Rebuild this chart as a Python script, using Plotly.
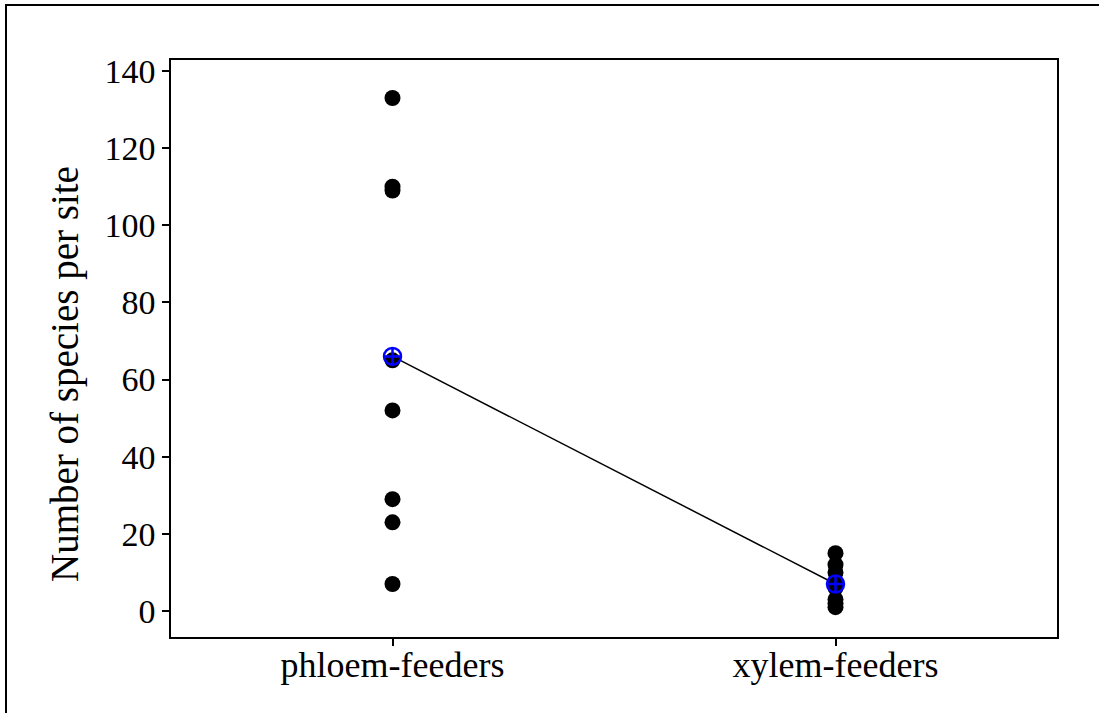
import plotly.graph_objects as go

# Species richness per site for the two feeding guilds
categories = ["phloem-feeders", "xylem-feeders"]
phloem_counts = [133, 110, 109, 65, 52, 29, 23, 7]
xylem_counts = [15, 12, 10, 7, 6, 3, 2, 1]

y_ticks = [0, 20, 40, 60, 80, 100, 120, 140]
y_title = "Number of species per site"

groups = [phloem_counts, xylem_counts]
means = [sum(g) / len(g) for g in groups]

FONT = "Liberation Serif, Times New Roman, serif"

fig = go.Figure()

# individual site values
for cat, vals in zip(categories, groups):
    fig.add_trace(go.Scatter(
        x=[cat] * len(vals), y=vals, mode="markers",
        marker=dict(color="black", size=16, line=dict(width=0)),
        showlegend=False, hoverinfo="y",
    ))

# line joining the group means
fig.add_trace(go.Scatter(
    x=categories, y=means, mode="lines",
    line=dict(color="black", width=1.5), showlegend=False,
))

# mean symbols
fig.add_trace(go.Scatter(
    x=categories, y=means, mode="markers",
    marker=dict(symbol="circle-cross-open", color="#0000ff", size=17,
                line=dict(color="#0000ff", width=2.5)),
    showlegend=False,
))

L, R, T, B = 171, 42, 60, 76
W, H = 1099, 713
pw, ph = W - L - R, H - T - B

# outer frame around the whole graphic
fig.add_shape(
    type="rect", xref="paper", yref="paper",
    x0=(6 - L) / pw, x1=(W + 20 - L) / pw,
    y0=(ph + T - (H + 20)) / ph, y1=(ph + T - 5) / ph,
    line=dict(color="black", width=2), fillcolor="rgba(0,0,0,0)",
    layer="above",
)

# y-axis title, set a little below the centre of the axis
fig.add_annotation(
    text=y_title, textangle=-90, showarrow=False,
    xref="paper", yref="paper",
    x=(65 - L) / pw, y=(ph + T - 374) / ph,
    xanchor="center", yanchor="middle",
    font=dict(family=FONT, size=39, color="black"),
)

fig.update_layout(
    width=W, height=H,
    margin=dict(l=L, r=R, t=T, b=B),
    paper_bgcolor="white", plot_bgcolor="white",
    font=dict(family=FONT, size=34, color="black"),
    xaxis=dict(
        type="category", range=[-0.5, 1.5],
        showline=True, linecolor="black", linewidth=1.5, mirror=True,
        ticks="outside", ticklen=7, tickwidth=1.5, tickcolor="black",
        showgrid=False, zeroline=False,
        tickfont=dict(family=FONT, size=36),
        ticklabelstandoff=-12,
    ),
    yaxis=dict(
        range=[-6.74, 142.86],
        tickvals=y_ticks,
        showline=True, linecolor="black", linewidth=1.5, mirror=True,
        ticks="outside", ticklen=7, tickwidth=1.5, tickcolor="black",
        showgrid=False, zeroline=False,
        tickfont=dict(family=FONT, size=34),
    ),
)

fig.write_html("out.html")
